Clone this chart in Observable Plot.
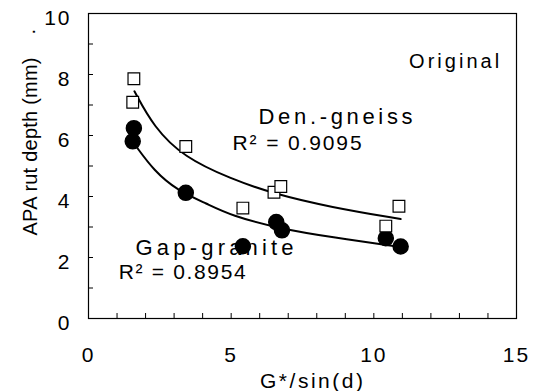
<!DOCTYPE html>
<html><head><meta charset="utf-8">
<script src="https://cdn.jsdelivr.net/npm/d3@7"></script>
<script src="https://cdn.jsdelivr.net/npm/@observablehq/plot@0.6"></script>
<style>
body{margin:0;background:#fff}
</style>
</head><body><div id="chart"></div>
<script>
// Den.-gneiss (open squares)
const gneissX = [1.59, 1.55, 3.41, 5.41, 6.50, 6.74, 10.42, 10.88];
const gneissY = [7.86, 7.09, 5.64, 3.62, 4.14, 4.33, 3.03, 3.68];
// Gap-granite (filled circles)
const graniteX = [1.59, 1.55, 3.41, 5.41, 6.58, 6.78, 10.42, 10.94];
const graniteY = [6.24, 5.81, 4.12, 2.37, 3.16, 2.89, 2.63, 2.36];
// trend lines
const gneissFitX = [1.61, 2.29, 3.34, 4.98, 6.49, 8.48, 10.94];
const gneissFitY = [7.45, 6.27, 5.29, 4.58, 4.09, 3.65, 3.26];
const graniteFitX = [1.65, 2.29, 3.11, 4.16, 4.98, 6.73, 8.48, 10.90];
const graniteFitY = [5.67, 4.85, 4.20, 3.76, 3.38, 2.94, 2.67, 2.35];
// ticks and labels
const xTickLabels = [0, 5, 10, 15];
const yTickLabels = [0, 2, 4, 6, 8, 10];
const xMinorTicks = d3.range(0, 16);
const yMinorTicks = d3.range(0, 11);
const xLabel = "G*/sin(d)";
const yLabel = "APA rut depth (mm)";
const yLabelDot = ".";
const panelLabel = "Original";
const seriesNames = ["Den.-gneiss", "Gap-granite"];
const r2Labels = ["R\u00b2 = 0.9095", "R\u00b2 = 0.8954"];

const gneiss = gneissX.map((x, i) => ({x, y: gneissY[i]}));
const granite = graniteX.map((x, i) => ({x, y: graniteY[i]}));
const gneissFit = gneissFitX.map((x, i) => ({x, y: gneissFitY[i]}));
const graniteFit = graniteFitX.map((x, i) => ({x, y: graniteFitY[i]}));

const chart = Plot.plot({
  width: 540, height: 391,
  marginLeft: 88, marginRight: 24, marginTop: 13, marginBottom: 73,
  style: {fontFamily: "'Liberation Sans', Arial, Helvetica, sans-serif", fontSize: "21px", letterSpacing: "2px", color: "black", background: "white", overflow: "visible"},
  x: {domain: [0, 15]},
  y: {domain: [0, 10]},
  marks: [
    Plot.frame({stroke: "black", strokeWidth: 1.2}),
    Plot.axisX({ticks: xMinorTicks, tickSize: -5, tickFormat: () => "", label: null, strokeWidth: 1}),
    Plot.axisY({ticks: yMinorTicks, tickSize: -5, tickFormat: () => "", label: null, strokeWidth: 1}),
    Plot.axisX({ticks: xTickLabels, tickSize: 0, tickPadding: 29, label: null, fontSize: 21}),
    Plot.axisY({ticks: yTickLabels, tickSize: 0, tickPadding: 17, dy: 5, label: null, fontSize: 21}),
    Plot.text([xLabel], {frameAnchor: "bottom", lineAnchor: "bottom", dx: 9, dy: 69, fontSize: 21}),
    Plot.text([yLabel], {frameAnchor: "bottom-left", rotate: -90, textAnchor: "start", lineAnchor: "bottom", dx: -52, dy: -83, fontSize: 20}),
    Plot.text([yLabelDot], {frameAnchor: "bottom-left", rotate: -90, textAnchor: "start", lineAnchor: "bottom", dx: -54, dy: -284, fontSize: 20}),
    Plot.text([panelLabel], {x: 14.39, y: 8.20, textAnchor: "end", lineAnchor: "bottom", fontSize: 20}),
    Plot.text([seriesNames[0]], {x: 5.96, y: 6.39, textAnchor: "start", lineAnchor: "bottom", fontSize: 22}),
    Plot.text([r2Labels[0]], {x: 5.05, y: 5.51, textAnchor: "start", lineAnchor: "bottom", fontSize: 21}),
    Plot.text([seriesNames[1]], {x: 1.65, y: 2.07, textAnchor: "start", lineAnchor: "bottom", fontSize: 22}),
    Plot.text([r2Labels[1]], {x: 1.06, y: 1.30, textAnchor: "start", lineAnchor: "bottom", fontSize: 21}),
    Plot.line(gneissFit, {x: "x", y: "y", curve: "basis", stroke: "black", strokeWidth: 2}),
    Plot.line(graniteFit, {x: "x", y: "y", curve: "basis", stroke: "black", strokeWidth: 2}),
    Plot.dot(granite, {x: "x", y: "y", r: 7.5, fill: "black", stroke: "black"}),
    Plot.dot(gneiss, {x: "x", y: "y", symbol: "square", r: 6.6, fill: "white", stroke: "black", strokeWidth: 1.2})
  ]
});

// per-text typesetting (font size, overall text length) to match the reference
const typeset = new Map([
  [yLabel, ["20px", 178]], [xLabel, ["21px", 103]], [panelLabel, ["20px", 90]],
  [seriesNames[0], ["22px", 154]], [seriesNames[1], ["22px", 158]],
  [r2Labels[0], ["21px", 129]], [r2Labels[1], ["21px", 127]]
]);
d3.select(chart).selectAll("text").each(function() {
  const s = typeset.get(this.textContent);
  if (s) {
    this.style.letterSpacing = "0px";
    this.style.fontSize = s[0];
    this.setAttribute("textLength", s[1]);
    this.setAttribute("lengthAdjust", "spacing");
  } else if (this.textContent === yLabelDot) {
    this.style.letterSpacing = "0px";
  }
});
document.getElementById("chart").appendChild(chart);
</script>
</body></html>
